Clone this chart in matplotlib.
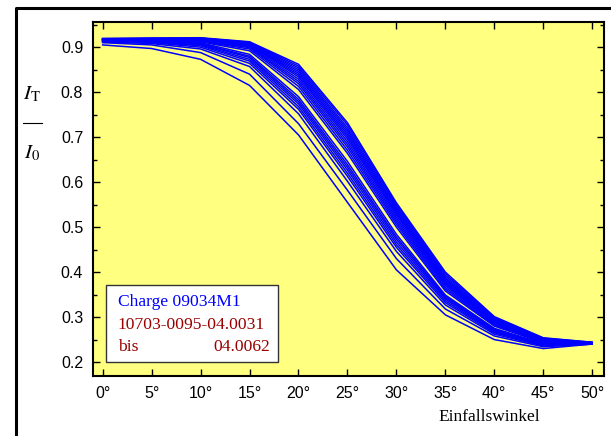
import matplotlib.pyplot as plt
from matplotlib.patches import Rectangle
from matplotlib.lines import Line2D

angles = [0, 5, 10, 15, 20, 25, 30, 35, 40, 45, 50]
xticklabels = ['0°', '5°', '10°', '15°', '20°', '25°', '30°', '35°', '40°', '45°', '50°']

# I_T / I_0 per sample, one row per measured piece
curves = [
    [0.905, 0.897, 0.873, 0.815, 0.705, 0.555, 0.405, 0.305, 0.250, 0.230, 0.240],
    [0.910, 0.905, 0.888, 0.840, 0.730, 0.582, 0.430, 0.318, 0.258, 0.234, 0.240],
    [0.912, 0.908, 0.896, 0.857, 0.752, 0.602, 0.446, 0.327, 0.262, 0.236, 0.240],
    [0.912, 0.910, 0.900, 0.864, 0.762, 0.613, 0.455, 0.332, 0.265, 0.237, 0.240],
    [0.913, 0.911, 0.903, 0.869, 0.768, 0.620, 0.461, 0.336, 0.267, 0.238, 0.241],
    [0.913, 0.912, 0.905, 0.873, 0.774, 0.627, 0.467, 0.340, 0.269, 0.239, 0.241],
    [0.914, 0.913, 0.907, 0.877, 0.779, 0.633, 0.473, 0.343, 0.271, 0.240, 0.241],
    [0.914, 0.913, 0.908, 0.880, 0.784, 0.639, 0.478, 0.346, 0.273, 0.240, 0.241],
    [0.915, 0.914, 0.910, 0.884, 0.790, 0.646, 0.484, 0.349, 0.275, 0.241, 0.241],
    [0.915, 0.915, 0.912, 0.892, 0.806, 0.664, 0.500, 0.358, 0.280, 0.243, 0.242],
    [0.916, 0.916, 0.913, 0.896, 0.813, 0.671, 0.506, 0.362, 0.282, 0.244, 0.242],
    [0.916, 0.916, 0.914, 0.899, 0.819, 0.678, 0.511, 0.366, 0.284, 0.245, 0.242],
    [0.916, 0.917, 0.915, 0.901, 0.824, 0.684, 0.516, 0.370, 0.286, 0.246, 0.242],
    [0.917, 0.917, 0.916, 0.903, 0.829, 0.690, 0.521, 0.373, 0.288, 0.247, 0.242],
    [0.917, 0.918, 0.917, 0.905, 0.834, 0.696, 0.526, 0.376, 0.289, 0.247, 0.243],
    [0.917, 0.918, 0.917, 0.906, 0.838, 0.701, 0.530, 0.379, 0.291, 0.248, 0.243],
    [0.918, 0.918, 0.918, 0.907, 0.842, 0.706, 0.534, 0.382, 0.292, 0.249, 0.243],
    [0.918, 0.919, 0.918, 0.908, 0.846, 0.711, 0.538, 0.385, 0.294, 0.250, 0.243],
    [0.918, 0.919, 0.919, 0.909, 0.850, 0.716, 0.542, 0.388, 0.295, 0.251, 0.243],
    [0.919, 0.919, 0.920, 0.910, 0.854, 0.721, 0.546, 0.392, 0.297, 0.252, 0.243],
    [0.919, 0.920, 0.920, 0.911, 0.858, 0.727, 0.550, 0.396, 0.299, 0.253, 0.244],
    [0.919, 0.920, 0.921, 0.912, 0.862, 0.732, 0.554, 0.400, 0.301, 0.254, 0.244],
]

yticks = [0.2, 0.3, 0.4, 0.5, 0.6, 0.7, 0.8, 0.9]
charge = 'Charge 09034M1'
first_id = '10703-0095-04.0031'
last_id = '04.0062'

plt.rcParams['mathtext.fontset'] = 'stix'

fig = plt.figure(figsize=(6.11, 4.36), dpi=100)
ax = fig.add_axes([0.152, 0.1376, 0.8365, 0.812])
ax.set_facecolor('#ffff80')

for c in curves:
    ax.plot(angles, c, color='#0000ff', lw=1.1)

ax.set_xlim(-1.0, 51.2)
ax.set_ylim(0.169, 0.956)
ax.set_xticks(angles)
ax.set_xticklabels(xticklabels)
ax.set_yticks(yticks)
ax.set_yticklabels(['%.1f' % v for v in yticks])
ax.set_yticks([0.2 + 0.05 * i for i in range(16)], minor=True)
ax.tick_params(which='both', direction='in', top=True, right=True,
               labelsize=11.5, colors='black', width=1.0)
ax.tick_params(which='major', length=5, pad=7)
ax.tick_params(which='minor', length=3)
for lab in ax.get_xticklabels() + ax.get_yticklabels():
    lab.set_family('Liberation Sans')
for s in ax.spines.values():
    s.set_linewidth(1.5)

# info box
ax.add_patch(Rectangle((0.0254, 0.0395), 0.337, 0.218, transform=ax.transAxes,
                       facecolor='white', edgecolor='#333333', lw=1.0, zorder=5))
tf = dict(transform=ax.transAxes, family='Liberation Serif', fontsize=12.6, zorder=6, va='center')
ax.text(0.049, 0.209, charge, color='#0000ff', **tf)
ax.text(0.049, 0.144, first_id, color='#990000', **tf)
ax.text(0.049, 0.081, 'bis', color='#990000', **tf)
ax.text(0.347, 0.081, last_id, color='#990000', ha='right', **tf)

# axis labels
fig.text(0.800, 0.043, 'Einfallswinkel', family='Liberation Serif', fontsize=12.5,
         ha='center', va='center')
fig.text(0.052, 0.785, r'$I_{\mathrm{T}}$', fontsize=15, ha='center', va='center')
fig.text(0.052, 0.648, r'$I_{0}$', fontsize=15, ha='center', va='center')
fig.add_artist(Line2D([0.037, 0.068], [0.717, 0.717], color='black', lw=0.8))

# outer frame (left and top edges)
fig.add_artist(Line2D([0.027, 0.027, 1.0], [0.0, 0.981, 0.981], color='black', lw=2.2))

fig.savefig('out.png', dpi=100)
